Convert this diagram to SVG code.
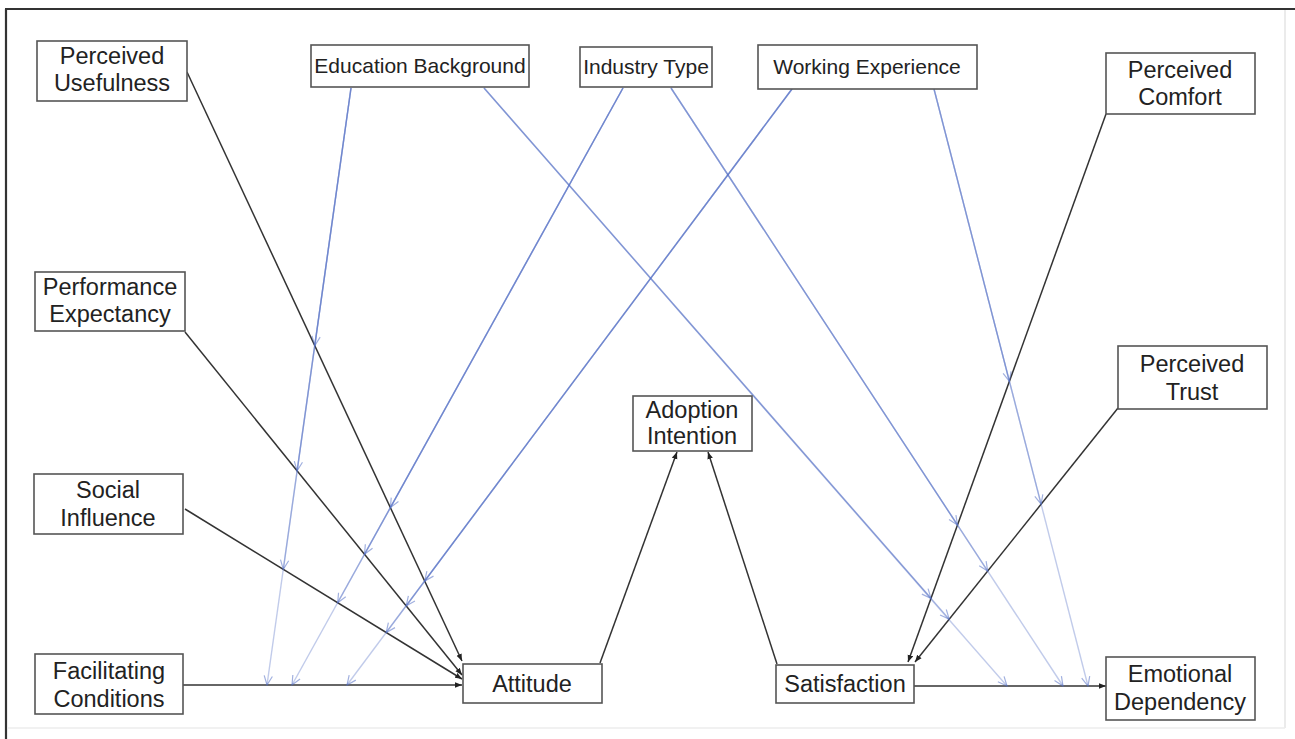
<svg xmlns="http://www.w3.org/2000/svg" width="1295" height="739" viewBox="0 0 1295 739">
  <style>
    .box { fill: #ffffff; stroke: #555555; stroke-width: 1.6; }
    .lbl { font-family: "Liberation Sans", Arial, sans-serif; font-size: 23.5px; fill: #222222; text-anchor: middle; }
    .lbl-s { font-family: "Liberation Sans", Arial, sans-serif; font-size: 21px; fill: #222222; text-anchor: middle; }
    .path { stroke: #333333; stroke-width: 1.5; fill: none; marker-end: url(#arrowBlack); }
    .mod { stroke: #5470c4; stroke-opacity: 0.36; stroke-width: 1.4; fill: none; marker-end: url(#arrowBlue); }
  </style>
  <defs>
    <marker id="arrowBlack" viewBox="0 0 10 10" refX="10" refY="5" markerWidth="7" markerHeight="7" markerUnits="userSpaceOnUse" orient="auto">
      <path d="M0,1 L10,5 L0,9 Z" fill="#222222"/>
    </marker>
    <marker id="arrowBlue" viewBox="0 0 12 12" refX="11" refY="6" markerWidth="11" markerHeight="11" markerUnits="userSpaceOnUse" orient="auto">
      <path d="M1,1.5 L11,6 L1,10.5" fill="none" stroke="#5470c4" stroke-opacity="0.55" stroke-width="1.3"/>
    </marker>
  </defs>

  <rect x="0" y="0" width="1295" height="739" fill="#ffffff"/>

  <!-- frame -->
  <g id="frame">
    <line x1="5" y1="9" x2="1295" y2="9" stroke="#333333" stroke-width="2.2"/>
    <line x1="6" y1="9" x2="6" y2="739" stroke="#333333" stroke-width="2.2"/>
    <line x1="1285" y1="10" x2="1285" y2="728" stroke="#e4e4e4" stroke-width="1.5"/>
    <line x1="7" y1="728" x2="1285" y2="728" stroke="#ececec" stroke-width="1.5"/>
  </g>

  <!-- connectors -->
  <g id="connectors">
    <!-- direct paths -->
    <line class="path" x1="187" y1="72" x2="462" y2="661"/>
    <line class="path" x1="185" y1="332" x2="462" y2="675"/>
    <line class="path" x1="185" y1="509" x2="462" y2="679"/>
    <line class="path" x1="183" y1="685" x2="462" y2="685"/>
    <line class="path" x1="600" y1="663" x2="677" y2="452"/>
    <line class="path" x1="777" y1="664" x2="708" y2="452"/>
    <line class="path" x1="1106" y1="114" x2="908" y2="662"/>
    <line class="path" x1="1118" y1="408" x2="915" y2="662"/>
    <line class="path" x1="914" y1="686" x2="1106" y2="686"/>

    <!-- moderating effects: Education Background -->
    <line class="mod" x1="351" y1="88" x2="314.8" y2="345.6"/>
    <line class="mod" x1="351" y1="88" x2="297.1" y2="470.8"/>
    <line class="mod" x1="351" y1="88" x2="283.3" y2="569.3"/>
    <line class="mod" x1="351" y1="88" x2="267" y2="685"/>
    <line class="mod" x1="484" y1="88" x2="931" y2="598.3"/>
    <line class="mod" x1="484" y1="88" x2="949.2" y2="619.1"/>
    <line class="mod" x1="484" y1="88" x2="1007" y2="686"/>

    <!-- moderating effects: Industry Type -->
    <line class="mod" x1="623" y1="88" x2="390.4" y2="507.6"/>
    <line class="mod" x1="623" y1="88" x2="364.5" y2="554.3"/>
    <line class="mod" x1="623" y1="88" x2="337.7" y2="602.7"/>
    <line class="mod" x1="623" y1="88" x2="292" y2="685"/>
    <line class="mod" x1="671" y1="88" x2="957.5" y2="525"/>
    <line class="mod" x1="671" y1="88" x2="987.7" y2="571.1"/>
    <line class="mod" x1="671" y1="88" x2="1063" y2="686"/>

    <!-- moderating effects: Working Experience -->
    <line class="mod" x1="792" y1="89" x2="424.7" y2="581"/>
    <line class="mod" x1="792" y1="89" x2="406.2" y2="605.8"/>
    <line class="mod" x1="792" y1="89" x2="386.2" y2="632.5"/>
    <line class="mod" x1="792" y1="89" x2="347" y2="685"/>
    <line class="mod" x1="934" y1="89" x2="1009.4" y2="381.3"/>
    <line class="mod" x1="934" y1="89" x2="1041.1" y2="504.2"/>
    <line class="mod" x1="934" y1="89" x2="1088" y2="686"/>
  </g>

  <!-- nodes -->
  <g id="perceived-usefulness">
    <rect class="box" x="37" y="41" width="150" height="60"/>
    <text class="lbl" x="112" y="64">Perceived</text>
    <text class="lbl" x="112" y="91">Usefulness</text>
  </g>
  <g id="education-background">
    <rect class="box" x="311" y="45" width="218" height="42"/>
    <text class="lbl-s" x="420" y="73">Education Background</text>
  </g>
  <g id="industry-type">
    <rect class="box" x="580" y="47" width="132" height="40"/>
    <text class="lbl-s" x="646" y="74">Industry Type</text>
  </g>
  <g id="working-experience">
    <rect class="box" x="758" y="45" width="219" height="44"/>
    <text class="lbl-s" x="867" y="74">Working Experience</text>
  </g>
  <g id="perceived-comfort">
    <rect class="box" x="1106" y="53" width="149" height="61"/>
    <text class="lbl" x="1180" y="78">Perceived</text>
    <text class="lbl" x="1180" y="105">Comfort</text>
  </g>
  <g id="performance-expectancy">
    <rect class="box" x="35" y="272" width="150" height="59"/>
    <text class="lbl" x="110" y="295">Performance</text>
    <text class="lbl" x="110" y="322">Expectancy</text>
  </g>
  <g id="social-influence">
    <rect class="box" x="34" y="474" width="149" height="60"/>
    <text class="lbl" x="108" y="498">Social</text>
    <text class="lbl" x="108" y="526">Influence</text>
  </g>
  <g id="facilitating-conditions">
    <rect class="box" x="35" y="654" width="148" height="60"/>
    <text class="lbl" x="109" y="679">Facilitating</text>
    <text class="lbl" x="109" y="707">Conditions</text>
  </g>
  <g id="adoption-intention">
    <rect class="box" x="633" y="396" width="119" height="55"/>
    <text class="lbl" x="692" y="418">Adoption</text>
    <text class="lbl" x="692" y="444">Intention</text>
  </g>
  <g id="attitude">
    <rect class="box" x="463" y="664" width="139" height="39"/>
    <text class="lbl" x="532" y="692">Attitude</text>
  </g>
  <g id="satisfaction">
    <rect class="box" x="776" y="665" width="138" height="38"/>
    <text class="lbl" x="845" y="692">Satisfaction</text>
  </g>
  <g id="perceived-trust">
    <rect class="box" x="1118" y="346" width="149" height="63"/>
    <text class="lbl" x="1192" y="372">Perceived</text>
    <text class="lbl" x="1192" y="400">Trust</text>
  </g>
  <g id="emotional-dependency">
    <rect class="box" x="1106" y="657" width="149" height="63"/>
    <text class="lbl" x="1180" y="682">Emotional</text>
    <text class="lbl" x="1180" y="710">Dependency</text>
  </g>
</svg>
